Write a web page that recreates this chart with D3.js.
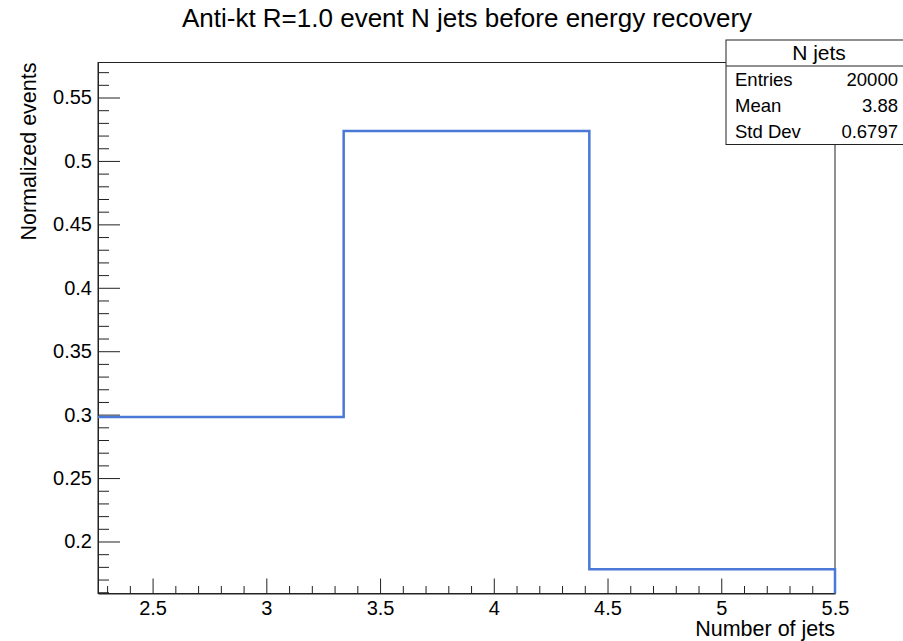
<!DOCTYPE html>
<html>
<head>
<meta charset="utf-8">
<script src="https://cdn.jsdelivr.net/npm/d3@7"></script>
<style>
  html, body { margin: 0; padding: 0; background: #fff; }
  svg { display: block; }
  text { font-family: "Liberation Sans", Arial, Helvetica, sans-serif; fill: #000; }
</style>
</head>
<body>
<svg id="chart" width="903" height="641"></svg>
<script>
// Histogram: fraction of events by number of anti-kt R=1.0 jets
const binEdges = [2.26, 3.34, 4.42, 5.5];
const binValues = [0.2982, 0.5236, 0.1782];
const xTicks = [2.5, 3, 3.5, 4, 4.5, 5, 5.5];
const yTicks = [0.2, 0.25, 0.3, 0.35, 0.4, 0.45, 0.5, 0.55];
const statsLabels = ["Entries", "Mean", "Std Dev"];
const statsValues = ["20000", "3.88", "0.6797"];
const titleText = "Anti-kt R=1.0 event N jets before energy recovery";
const statsTitle = "N jets";

const svg = d3.select("#chart");
const frame = { left: 98, right: 835, top: 62.5, bottom: 593.5 };

const x = d3.scaleLinear().domain([2.26, 5.5]).range([frame.left, frame.right]);
const y = d3.scaleLinear().domain([0.159, 0.5776]).range([frame.bottom, frame.top]);

// frame
svg.append("rect")
  .attr("x", frame.left).attr("y", frame.top)
  .attr("width", frame.right - frame.left).attr("height", frame.bottom - frame.top)
  .attr("fill", "none").attr("stroke", "#222").attr("stroke-width", 1);

// x axis with major and minor ticks
const xMinor = d3.range(2.3, 5.5001, 0.1).map(v => +v.toFixed(2)).filter(v => !xTicks.includes(v));
const xAxis = d3.axisBottom(x).tickValues(xTicks).tickSize(-15).tickSizeOuter(0)
  .tickFormat(d => d3.format("")(d)).tickPadding(7);
const gx = svg.append("g").attr("transform", `translate(0,${frame.bottom})`).call(xAxis);
gx.select(".domain").attr("stroke", "#222");
gx.selectAll(".tick line").attr("stroke", "#222");
gx.selectAll(".tick text").attr("font-size", 20);
const gxm = svg.append("g").attr("transform", `translate(0,${frame.bottom})`)
  .call(d3.axisBottom(x).tickValues(xMinor).tickSize(-7.5).tickSizeOuter(0).tickFormat(""));
gxm.select(".domain").remove();
gxm.selectAll(".tick line").attr("stroke", "#222");

// y axis with major and minor ticks
const yMinor = d3.range(0.16, 0.5701, 0.01).map(v => +v.toFixed(2)).filter(v => !yTicks.some(t => Math.abs(t - v) < 1e-9));
const yAxis = d3.axisLeft(y).tickValues(yTicks).tickSize(-22).tickSizeOuter(0)
  .tickFormat(d => d3.format("")(d)).tickPadding(6);
const gy = svg.append("g").attr("transform", `translate(${frame.left},0)`).call(yAxis);
gy.select(".domain").attr("stroke", "#222");
gy.selectAll(".tick line").attr("stroke", "#222");
gy.selectAll(".tick text").attr("font-size", 20);
const gym = svg.append("g").attr("transform", `translate(${frame.left},0)`)
  .call(d3.axisLeft(y).tickValues(yMinor).tickSize(-11).tickSizeOuter(0).tickFormat(""));
gym.select(".domain").remove();
gym.selectAll(".tick line").attr("stroke", "#222");

// histogram outline as a step line
const steps = [];
binValues.forEach((v, i) => {
  steps.push([binEdges[i], v]);
  steps.push([binEdges[i + 1], v]);
});
steps.push([binEdges[binEdges.length - 1], y.domain()[0]]);
svg.append("path")
  .datum(steps)
  .attr("d", d3.line().x(d => x(d[0])).y(d => y(d[1])))
  .attr("fill", "none")
  .attr("stroke", "#4a78d6")
  .attr("stroke-width", 2.5);

// titles
svg.append("text").attr("x", 467).attr("y", 27).attr("text-anchor", "middle")
  .attr("font-size", 26).text(titleText);
svg.append("text").attr("x", frame.right).attr("y", 636).attr("text-anchor", "end")
  .attr("font-size", 21.5).text("Number of jets");
svg.append("text").attr("transform", `translate(36,${frame.top}) rotate(-90)`)
  .attr("text-anchor", "end").attr("font-size", 21.5).text("Normalized events");

// statistics box
const box = { x: 726, y: 40, w: 180, h: 104.5, head: 26 };
svg.append("rect").attr("x", box.x).attr("y", box.y).attr("width", box.w).attr("height", box.h)
  .attr("fill", "#fff").attr("stroke", "#222").attr("stroke-width", 1);
svg.append("line").attr("x1", box.x).attr("x2", box.x + box.w)
  .attr("y1", box.y + box.head).attr("y2", box.y + box.head).attr("stroke", "#222");
svg.append("text").attr("x", 819).attr("y", box.y + 20).attr("text-anchor", "middle")
  .attr("font-size", 21).text(statsTitle);
const rowY = d3.scaleBand().domain(statsLabels).range([box.y + box.head, box.y + box.h]);
statsLabels.forEach((lab, i) => {
  const cy = rowY(lab) + rowY.bandwidth() / 2 + 7;
  svg.append("text").attr("x", 735).attr("y", cy).attr("font-size", 18.5).text(lab);
  svg.append("text").attr("x", 898).attr("y", cy).attr("text-anchor", "end")
    .attr("font-size", 18.5).text(statsValues[i]);
});
</script>
</body>
</html>
